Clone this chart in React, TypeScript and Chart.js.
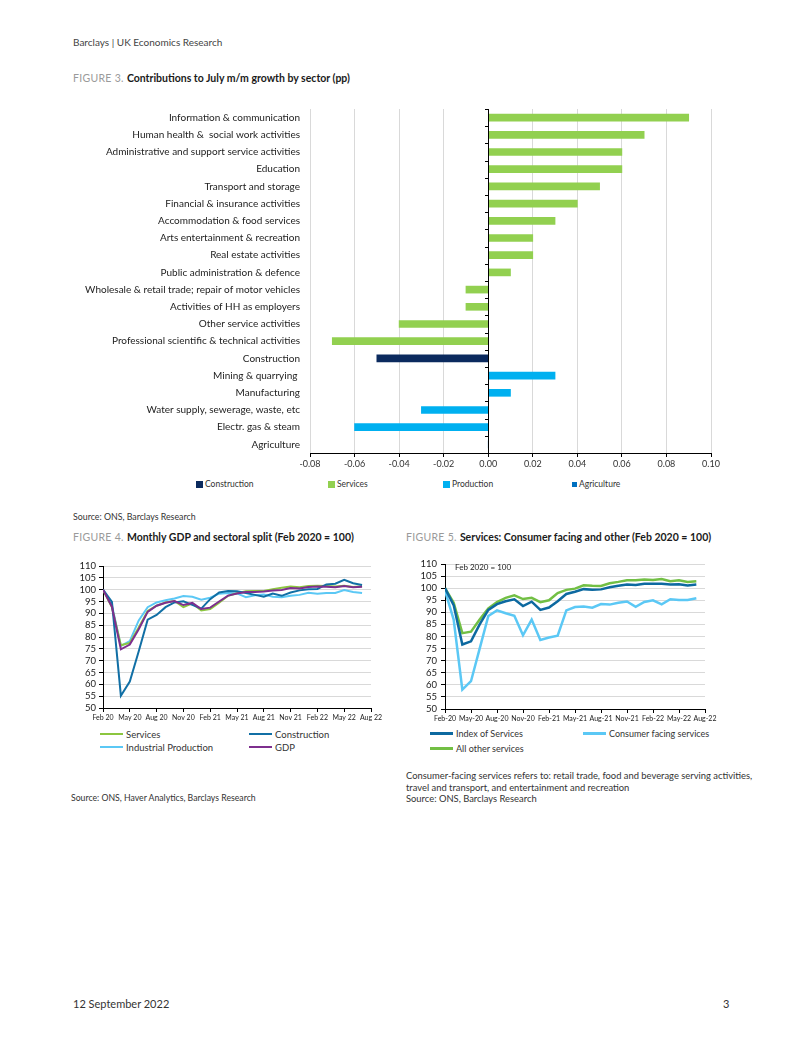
import React, { useEffect, useRef } from "react";
import { Chart, registerables } from "chart.js";

Chart.register(...registerables);

const FONT = "Lato, 'Noto Sans', sans-serif";

// ---------------- Figure 3 data ----------------
const sectorLabels = [
  "Information & communication",
  "Human health &  social work activities",
  "Administrative and support service activities",
  "Education",
  "Transport and storage",
  "Financial & insurance activities",
  "Accommodation & food services",
  "Arts entertainment & recreation",
  "Real estate activities",
  "Public administration & defence",
  "Wholesale & retail trade; repair of motor vehicles",
  "Activities of HH as employers",
  "Other service activities",
  "Professional scientific & technical activities",
  "Construction",
  "Mining & quarrying ",
  "Manufacturing",
  "Water supply, sewerage, waste, etc",
  "Electr. gas & steam",
  "Agriculture",
];
const constructionContrib = [null, null, null, null, null, null, null, null, null, null, null, null, null, null, -0.05, null, null, null, null, null];
const servicesContrib = [0.09, 0.07, 0.06, 0.06, 0.05, 0.04, 0.03, 0.02, 0.02, 0.01, -0.01, -0.01, -0.04, -0.07, null, null, null, null, null, null];
const productionContrib = [null, null, null, null, null, null, null, null, null, null, null, null, null, null, null, 0.03, 0.01, -0.03, -0.06, null];
const agricultureContrib = [null, null, null, null, null, null, null, null, null, null, null, null, null, null, null, null, null, null, null, 0];
const fig3SeriesNames = ["Construction", "Services", "Production", "Agriculture"];
const fig3Colors = ["#0b2a5e", "#92d050", "#00b0f0", "#0070c0"];

// ---------------- Figure 4 data (Feb 2020 - Jul 2022) ----------------
const fig4TickLabels = ["Feb 20", "May 20", "Aug 20", "Nov 20", "Feb 21", "May 21", "Aug 21", "Nov 21", "Feb 22", "May 22", "Aug 22"];
const fig4Services = [100, 92.5, 76.5, 77.5, 84, 91, 93.2, 94.6, 95.2, 92.6, 94.2, 91.2, 91.8, 94.5, 97.4, 98.5, 99.3, 99.4, 99.4, 100.2, 100.8, 101.3, 101, 101.5, 101.7, 101.6, 101.3, 101.6, 101.1, 101.4];
const fig4Construction = [100, 94.8, 55.2, 61.2, 74, 87.3, 89.3, 92.6, 94.6, 95.1, 93.6, 92, 96, 98.8, 99.4, 99.3, 98.6, 97.8, 97, 98.4, 97.4, 98.8, 99.7, 100.2, 100.3, 102.2, 102.5, 104.2, 102.7, 102];
const fig4IndustrialProduction = [100, 93.5, 76.2, 78.3, 87, 92.6, 94.6, 95.5, 96.3, 97.3, 97, 95.8, 96.6, 98.3, 98.6, 98.4, 96.8, 97.6, 98, 97, 96.8, 97.4, 97.8, 98.7, 98.3, 98.6, 98.6, 99.8, 99, 98.6];
const fig4GDP = [100, 92.8, 74.8, 76.8, 83.3, 90.6, 93.2, 94.5, 95.2, 93.5, 94.4, 91.8, 92.4, 95, 97.5, 98.4, 99, 99, 99.2, 99.6, 99.9, 100.7, 100.5, 101.1, 101.3, 101.2, 101, 101.5, 101, 101.2];
const fig4Names = ["Services", "Construction", "Industrial Production", "GDP"];
const fig4Colors = ["#8cc63f", "#116fa5", "#5bc8f5", "#7e2f8e"];

// ---------------- Figure 5 data (Feb 2020 - Jul 2022) ----------------
const fig5TickLabels = ["Feb-20", "May-20", "Aug-20", "Nov-20", "Feb-21", "May-21", "Aug-21", "Nov-21", "Feb-22", "May-22", "Aug-22"];
const fig5IndexOfServices = [100, 93, 76.7, 78, 85, 91, 93.4, 94.6, 95.4, 92.6, 94.4, 91, 92, 94.6, 97.6, 98.5, 99.6, 99.3, 99.5, 100.4, 101, 101.5, 101.3, 101.8, 101.8, 101.8, 101.5, 101.6, 101.1, 101.5];
const fig5ConsumerFacing = [99, 87, 58, 61.5, 75, 88.5, 90.8, 89.6, 88.6, 80.5, 87, 78.6, 79.6, 80.3, 90.8, 92.2, 92.4, 91.9, 93.4, 93.2, 94, 94.5, 92.3, 94.3, 95, 93.3, 95.4, 95.1, 95.1, 95.8];
const fig5AllOther = [100, 94, 81.4, 82, 87, 91.6, 94.2, 96, 97, 95.5, 96, 94.2, 95, 98, 99.3, 99.8, 101.2, 101, 100.9, 102, 102.6, 103.3, 103.3, 103.6, 103.4, 103.8, 102.9, 103.3, 102.6, 102.9];
const fig5Names = ["Index of Services", "Consumer facing services", "All other services"];
const fig5Colors = ["#0d69a0", "#5bc8f5", "#72bf44"];

const toPoints = (arr: number[]) => arr.map((v, i) => ({ x: i, y: v }));

// ---------------- Figure 3 chart ----------------
function Figure3() {
  const ref = useRef<HTMLCanvasElement>(null);
  useEffect(() => {
    const zeroTicks = {
      id: "zeroTicks",
      afterDatasetsDraw(chart: any) {
        const xs = chart.scales.x;
        const ys = chart.scales.y;
        const ctx = chart.ctx;
        const x0 = Math.round(xs.getPixelForValue(0));
        const n = sectorLabels.length;
        const band = (ys.bottom - ys.top) / n;
        ctx.save();
        ctx.strokeStyle = "#000";
        ctx.lineWidth = 1;
        ctx.beginPath();
        ctx.moveTo(x0 + 0.5, ys.top);
        ctx.lineTo(x0 + 0.5, ys.bottom);
        for (let i = 0; i <= n; i++) {
          const y = Math.round(ys.top + i * band) + 0.5;
          ctx.moveTo(x0 - 3, y);
          ctx.lineTo(x0 + 0.5, y);
        }
        ctx.stroke();
        ctx.restore();
      },
    };
    const seriesData = [constructionContrib, servicesContrib, productionContrib, agricultureContrib];
    const chart = new Chart(ref.current!, {
      type: "bar",
      data: {
        labels: sectorLabels,
        datasets: seriesData.map((d, i) => ({
          label: fig3SeriesNames[i],
          data: d as any,
          backgroundColor: fig3Colors[i],
          barThickness: 7,
        })),
      },
      options: {
        indexAxis: "y",
        animation: false,
        responsive: false,
        layout: { padding: { top: 0, right: 29, left: 0, bottom: 0 } },
        plugins: { legend: { display: false }, tooltip: { enabled: false } },
        scales: {
          x: {
            stacked: true,
            min: -0.08,
            max: 0.1,
            ticks: {
              stepSize: 0.02,
              color: "#333",
              font: { family: FONT, size: 9 },
              padding: 2,
              callback: (v: any) => Number(v).toFixed(2),
            },
            grid: { color: "#d9d9d9", tickColor: "#000", tickLength: 4 },
            border: { display: true, color: "#000" },
            afterFit: (s: any) => { s.height = 19; },
          },
          y: {
            stacked: true,
            ticks: { color: "#222", font: { family: FONT, size: 10 }, padding: 10, autoSkip: false },
            grid: { display: false, drawTicks: false },
            border: { display: false },
            afterFit: (s: any) => { s.width = 250; },
          },
        },
      },
      plugins: [zeroTicks],
    });
    return () => chart.destroy();
  }, []);
  return <canvas ref={ref} width={680} height={379} style={{ position: "absolute", left: 60, top: 93, width: 680, height: 379 }} />;
}

// ---------------- Line chart helper ----------------
function LineFigure(props: {
  left: number; top: number; width: number; height: number;
  series: number[][]; names: string[]; colors: string[]; widths: number[]; orders: number[];
  tickLabels: string[]; yAxisWidth: number; xAxisHeight: number; padTop: number; padRight: number;
  yPad: number; xFont: number; note?: string;
}) {
  const ref = useRef<HTMLCanvasElement>(null);
  useEffect(() => {
    const notePlugin = {
      id: "note",
      afterDraw(chart: any) {
        if (!props.note) return;
        const ctx = chart.ctx;
        ctx.save();
        ctx.font = `8px ${FONT}`;
        ctx.fillStyle = "#222";
        ctx.textBaseline = "middle";
        ctx.fillText(props.note, chart.chartArea.left + 10, chart.chartArea.top + 3);
        ctx.restore();
      },
    };
    const chart = new Chart(ref.current!, {
      type: "line",
      data: {
        datasets: props.series.map((s, i) => ({
          label: props.names[i],
          data: toPoints(s) as any,
          borderColor: props.colors[i],
          backgroundColor: props.colors[i],
          borderWidth: props.widths[i],
          pointRadius: 0,
          tension: 0,
          order: props.orders[i],
        })),
      },
      options: {
        animation: false,
        responsive: false,
        layout: { padding: { top: props.padTop, right: props.padRight, left: 0, bottom: 0 } },
        plugins: { legend: { display: false }, tooltip: { enabled: false } },
        scales: {
          x: {
            type: "linear",
            min: 0,
            max: 30,
            ticks: {
              stepSize: 3,
              autoSkip: false,
              color: "#222",
              font: { family: FONT, size: props.xFont },
              padding: 2,
              maxRotation: 0,
              callback: (v: any) => props.tickLabels[Math.round(Number(v) / 3)],
            },
            grid: { drawOnChartArea: false, tickColor: "#000", tickLength: 4 },
            border: { display: true, color: "#000" },
            afterFit: (s: any) => { s.height = props.xAxisHeight; },
          },
          y: {
            min: 50,
            max: 110,
            ticks: { stepSize: 5, autoSkip: false, color: "#222", font: { family: FONT, size: 9.5 }, padding: props.yPad },
            grid: { color: "#d9d9d9", tickColor: "#000", tickLength: 4 },
            border: { display: true, color: "#000" },
            afterFit: (s: any) => { s.width = props.yAxisWidth; },
          },
        },
      },
      plugins: [notePlugin],
    });
    return () => chart.destroy();
  }, []);
  return (
    <canvas
      ref={ref}
      width={props.width}
      height={props.height}
      style={{ position: "absolute", left: props.left, top: props.top, width: props.width, height: props.height }}
    />
  );
}

// ---------------- Text helpers ----------------
function Txt(props: { x: number; y: number; size: number; color?: string; bold?: boolean; children: React.ReactNode }) {
  const lh = Math.round(props.size * 1.4);
  return (
    <div
      style={{
        position: "absolute",
        left: props.x,
        top: props.y - lh / 2,
        lineHeight: lh + "px",
        fontSize: props.size,
        fontFamily: FONT,
        color: props.color || "#333",
        fontWeight: props.bold ? 700 : 400,
        whiteSpace: "nowrap",
      }}
    >
      {props.children}
    </div>
  );
}

function FigTitle(props: { x: number; y: number; num: string; text: string }) {
  return (
    <Txt x={props.x} y={props.y} size={10.5}>
      <span style={{ color: "#9a9a9a", letterSpacing: 0.3 }}>{props.num} </span>
      <span style={{ color: "#1a1a1a", fontWeight: 700 }}>{props.text}</span>
    </Txt>
  );
}

function LineKey(props: { x: number; y: number; color: string; label: string; thick: number; size: number }) {
  return (
    <>
      <div style={{ position: "absolute", left: props.x, top: props.y - props.thick / 2, width: 23, height: props.thick, background: props.color }} />
      <Txt x={props.x + 26} y={props.y} size={props.size} color="#333">{props.label}</Txt>
    </>
  );
}

function BoxKey(props: { x: number; y: number; color: string; label: string; box: number }) {
  return (
    <>
      <div style={{ position: "absolute", left: props.x, top: props.y - props.box / 2, width: props.box, height: props.box, background: props.color }} />
      <Txt x={props.x + props.box + 2} y={props.y} size={8.5} color="#333">{props.label}</Txt>
    </>
  );
}

export default function App() {
  const fig3KeyX = [196, 328, 443, 572];
  return (
    <div style={{ position: "absolute", left: 0, top: 0, width: 802, height: 1037, background: "#fff", overflow: "hidden" }}>
      <Txt x={73} y={42} size={10} color="#444">Barclays | UK Economics Research</Txt>

      <FigTitle x={73} y={78} num="FIGURE 3." text="Contributions to July m/m growth by sector (pp)" />
      <Figure3 />
      {fig3SeriesNames.map((n, i) => (
        <BoxKey key={n} x={fig3KeyX[i]} y={484} color={fig3Colors[i]} label={n} box={i === 3 ? 5 : 7} />
      ))}
      <Txt x={73} y={517} size={8.8}>Source: ONS, Barclays Research</Txt>

      <FigTitle x={73} y={537} num="FIGURE 4." text="Monthly GDP and sectoral split (Feb 2020 = 100)" />
      <LineFigure
        left={60} top={555} width={330} height={170}
        series={[fig4Services, fig4Construction, fig4IndustrialProduction, fig4GDP]}
        names={fig4Names} colors={fig4Colors} widths={[2, 2, 2, 2]} orders={[2, 1, 3, 0]}
        tickLabels={fig4TickLabels} yAxisWidth={43} xAxisHeight={17} padTop={11} padRight={19} yPad={3} xFont={7}
      />
      <LineKey x={100} y={734} color={fig4Colors[0]} label={fig4Names[0]} thick={2.5} size={9.5} />
      <LineKey x={249} y={734} color={fig4Colors[1]} label={fig4Names[1]} thick={2.5} size={9.5} />
      <LineKey x={100} y={747} color={fig4Colors[2]} label={fig4Names[2]} thick={2.5} size={9.5} />
      <LineKey x={249} y={747} color={fig4Colors[3]} label={fig4Names[3]} thick={2.5} size={9.5} />
      <Txt x={71} y={798} size={8.7}>Source: ONS, Haver Analytics, Barclays Research</Txt>

      <FigTitle x={406} y={537} num="FIGURE 5." text="Services: Consumer facing and other (Feb 2020 = 100)" />
      <LineFigure
        left={400} top={553} width={330} height={172}
        series={[fig5IndexOfServices, fig5ConsumerFacing, fig5AllOther]}
        names={fig5Names} colors={fig5Colors} widths={[2.5, 2.5, 2.5]} orders={[0, 2, 1]}
        tickLabels={fig5TickLabels} yAxisWidth={45} xAxisHeight={16} padTop={11} padRight={25} yPad={4} xFont={7}
        note="Feb 2020 = 100"
      />
      <LineKey x={430} y={733} color={fig5Colors[0]} label={fig5Names[0]} thick={3} size={9} />
      <LineKey x={583} y={733} color={fig5Colors[1]} label={fig5Names[1]} thick={3} size={9} />
      <LineKey x={430} y={748} color={fig5Colors[2]} label={fig5Names[2]} thick={3} size={9} />
      <Txt x={406} y={775} size={9.4}>Consumer-facing services refers to: retail trade, food and beverage serving activities,</Txt>
      <Txt x={406} y={787} size={9.4}>travel and transport, and entertainment and recreation</Txt>
      <Txt x={406} y={798} size={9.4}>Source: ONS, Barclays Research</Txt>

      <Txt x={73} y={1003} size={11} color="#333">12 September 2022</Txt>
      <Txt x={723} y={1003} size={11} color="#333">3</Txt>
    </div>
  );
}
